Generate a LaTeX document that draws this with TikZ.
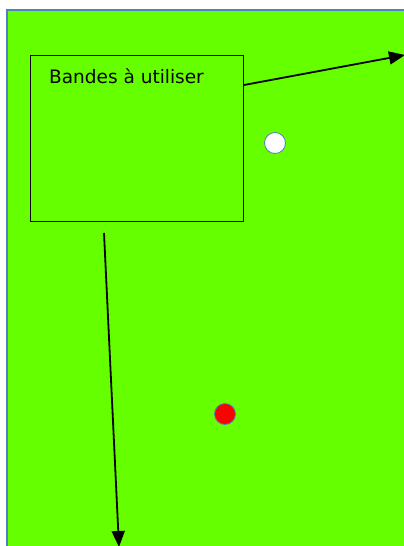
\documentclass[tikz,border=0pt]{standalone}
\usepackage{fontspec}
\setmainfont{DejaVu Sans}
\usetikzlibrary{arrows.meta}
\definecolor{fieldgreen}{HTML}{66FF00}
\definecolor{edgeblue}{HTML}{4F81BD}
\definecolor{dotred}{HTML}{FF0000}
\tikzset{
  field/.style={fill=fieldgreen, draw=edgeblue, line width=1.8pt},
  bandbox/.style={draw=black, line width=0.8pt, minimum width=213pt, minimum height=166pt, inner sep=0pt},
  ball/.style={circle, draw=edgeblue, line width=0.8pt, minimum size=21pt, inner sep=0pt},
  pointer/.style={draw=black, line width=1.8pt, -{Triangle[length=16pt,width=13pt]}}
}
\begin{document}
\begin{tikzpicture}[x=1pt,y=-1pt]
\useasboundingbox (0,0) rectangle (404,546);
\draw[field] (7,10) rectangle (420,560);
\node[bandbox, anchor=north west] (box) at (30,55) {};
\node[anchor=west, font=\fontsize{18.5}{22}\selectfont, inner sep=0pt] (lbl) at (49,76) {Bandes à utiliser};
\node[ball, fill=white] (white) at (275,143) {};
\node[ball, fill=dotred] (red) at (225,414) {};
\coordinate (a1s) at (244,85);
\coordinate (a1e) at (405,55);
\coordinate (a2s) at (104,233);
\coordinate (a2e) at (119,547);
\draw[pointer] (a1s) -- (a1e);
\draw[pointer] (a2s) -- (a2e);
\end{tikzpicture}
\end{document}
